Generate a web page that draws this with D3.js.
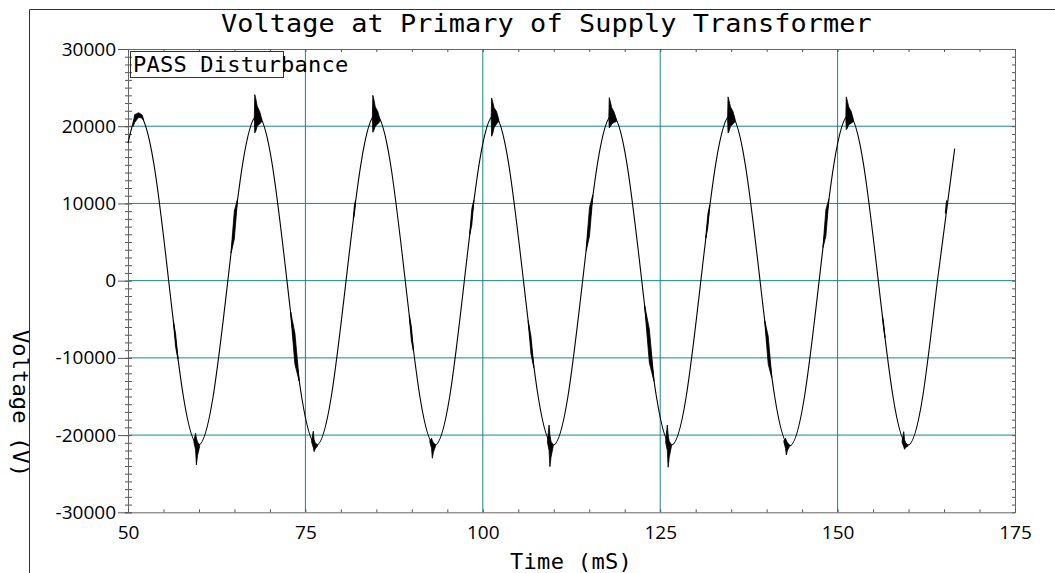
<!DOCTYPE html>
<html>
<head>
<meta charset="utf-8">
<script src="https://cdn.jsdelivr.net/npm/d3@7"></script>
<style>
  body { margin: 0; background: #fff; }
  svg { display: block; }
  .mono { font-family: "DejaVu Sans Mono", monospace; fill: #000; }
  .tick text { font-family: "Open Sans", sans-serif; font-size: 19px; fill: #000; }
</style>
</head>
<body>
<svg id="chart" width="1055" height="573"></svg>
<script>
// ---- data ----
var xTicks = [50, 75, 100, 125, 150, 175],
    xTickLabels = ['50', '75', '100', '125', '150', '175'],
    yTicks = [-30000, -20000, -10000, 0, 10000, 20000, 30000],
    yTickLabels = ['-30000', '-20000', '-10000', '0', '10000', '20000', '30000'],
    xGrid = [75, 100, 125, 150],
    yGrid = [-20000, -10000, 0, 10000, 20000];

// main 60 Hz trace (time in mS, voltage in V)
var waveTime = [50.00, 51.57, 53.65, 55.73, 57.82, 59.90, 61.98, 64.07,
                66.15, 68.23, 70.32, 72.40, 74.48, 76.57, 78.65, 80.73,
                82.82, 84.90, 86.98, 89.07, 91.15, 93.23, 95.32, 97.40,
                99.48, 101.57, 103.65, 105.73, 107.82, 109.90, 111.98, 114.07,
                116.15, 118.23, 120.32, 122.40, 124.48, 126.57, 128.65, 130.73,
                132.82, 134.90, 136.98, 139.07, 141.15, 143.23, 145.32, 147.40,
                149.48, 151.57, 153.65, 155.73, 157.82, 159.90, 161.98, 164.07,
                166.50];
var waveVolt = [17800, 21500, 15100, 0, -15100, -21300, -15100, 0,
                15100, 21400, 15100, 0, -15100, -21300, -15000, 0,
                15100, 21500, 15200, 0, -15100, -21300, -15100, 0,
                15100, 21400, 15100, 0, -15100, -21300, -15100, 0,
                15100, 21400, 15100, 0, -15100, -21300, -15100, 0,
                15100, 21400, 15100, 0, -15100, -21400, -15100, 0,
                15100, 21400, 15100, 0, -15100, -21300, -15100, 0,
                17100];

// disturbance bursts: [time, low envelope, high envelope]
var peakBursts = [
  [[50.70, 19950, 20350], [50.95, 20500, 21500], [51.50, 21150, 21750], [52.00, 21050, 21450], [52.20, 20750, 20850]],
  [[67.80, 21000, 21150], [67.86, 19130, 24100], [67.98, 19300, 23700], [68.21, 20000, 22600], [68.56, 20300, 21900], [68.86, 20600, 20900]],
  [[84.44, 21000, 21150], [84.50, 19220, 24000], [84.62, 19400, 23600], [84.85, 20000, 22500], [85.20, 20300, 21900], [85.50, 20600, 20900]],
  [[101.18, 21000, 21150], [101.24, 18700, 23660], [101.36, 18900, 23300], [101.59, 19800, 22400], [101.94, 20300, 21900], [102.24, 20600, 20900]],
  [[117.76, 21000, 21150], [117.82, 19780, 23700], [117.94, 19900, 23300], [118.17, 20300, 22400], [118.52, 20500, 21800], [118.82, 20600, 20900]],
  [[134.50, 21000, 21150], [134.56, 19130, 23800], [134.68, 19300, 23400], [134.91, 20000, 22500], [135.26, 20300, 21900], [135.56, 20600, 20900]],
  [[151.16, 21000, 21150], [151.22, 19560, 23800], [151.34, 19700, 23400], [151.57, 20200, 22500], [151.92, 20400, 21900], [152.22, 20600, 20900]]
];
var troughBursts = [
  [[59.29, -20930, -20730], [59.52, -21900, -19770], [59.64, -23870, -20400], [59.79, -22700, -20900], [60.09, -21500, -21250]],
  [[75.88, -20930, -20730], [76.11, -21600, -19500], [76.23, -22150, -20600], [76.38, -21800, -21000], [76.68, -21450, -21250]],
  [[92.54, -20930, -20730], [92.77, -21700, -20420], [92.89, -23000, -20700], [93.04, -22200, -21000], [93.34, -21450, -21250]],
  [[109.11, -20930, -20730], [109.34, -22000, -18700], [109.46, -24090, -20000], [109.61, -22900, -20800], [109.91, -21500, -21250]],
  [[125.77, -20930, -20730], [126.00, -22000, -18700], [126.12, -24170, -20000], [126.27, -22900, -20800], [126.57, -21500, -21250]],
  [[142.43, -20930, -20730], [142.66, -21700, -20420], [142.78, -22580, -20700], [142.93, -22000, -21000], [143.23, -21450, -21250]],
  [[159.09, -20930, -20730], [159.32, -21500, -19560], [159.44, -21840, -20600], [159.59, -21600, -21000], [159.89, -21450, -21250]]
];
var risingBursts = [
  [[64.54, 3600, 3900], [64.98, 5400, 9000], [65.42, 10300, 10500]],
  [[81.76, 8000, 8200], [81.91, 8600, 9800], [82.06, 10200, 10400]],
  [[98.17, 6000, 6300], [98.45, 7200, 9300], [98.73, 10200, 10400]],
  [[114.58, 3900, 4300], [115.04, 5800, 9500], [115.50, 10900, 11100]],
  [[131.43, 5500, 5700], [131.71, 6900, 8600], [131.98, 9600, 9800]],
  [[147.95, 4300, 4500], [148.35, 5800, 9200], [148.75, 10300, 10500]],
  [[165.19, 8700, 8900], [165.30, 9100, 10000], [165.40, 10200, 10400]]
];
var fallingBursts = [
  [[56.40, -5400, -5200], [56.71, -8600, -6900], [57.03, -10150, -9950]],
  [[72.93, -4400, -4100], [73.52, -10800, -6800], [74.11, -13000, -12700]],
  [[89.65, -4800, -4500], [89.94, -7800, -6000], [90.22, -9100, -8900]],
  [[106.40, -5400, -5200], [106.79, -9500, -7200], [107.18, -11250, -11050]],
  [[122.82, -3500, -3250], [123.47, -10600, -6300], [124.11, -13000, -12700]],
  [[139.74, -5400, -5200], [140.22, -10800, -7200], [140.71, -12550, -12300]],
  [[156.31, -4700, -4500], [156.50, -6300, -5600], [156.68, -7400, -7200]]
];

// ---- drawing ----
var svg = d3.select('#chart'),
    gridColor = '#17888a',
    axisColor = '#666',
    x = d3.scaleLinear().domain([50, 175]).range([128, 1015]),
    y = d3.scaleLinear().domain([-30000, 30000]).range([512.3, 49]),
    xMinor = d3.range(50, 176, 5),
    yMinor = d3.range(-30000, 30001, 1000);

svg.append('rect').attr('width', 1055).attr('height', 573).attr('fill', '#fff');

// outer frame
svg.append('path')
  .attr('d', 'M29.5,573V9.5H1055')
  .attr('fill', 'none')
  .attr('stroke', '#333');

// grid
svg.append('g').selectAll('line.vg')
  .data(xGrid)
  .enter().append('line')
  .attr('x1', function(d) { return x(d); })
  .attr('x2', function(d) { return x(d); })
  .attr('y1', y(30000))
  .attr('y2', y(-30000))
  .attr('stroke', gridColor);

svg.append('g').selectAll('line.hg')
  .data(yGrid)
  .enter().append('line')
  .attr('x1', x(50))
  .attr('x2', x(175))
  .attr('y1', function(d) { return y(d); })
  .attr('y2', function(d) { return y(d); })
  .attr('stroke', gridColor);

// axes
function styleAxis(g) {
  g.select('.domain').attr('stroke', axisColor);
  g.selectAll('.tick line').attr('stroke', '#555');
}

svg.append('g')
  .attr('transform', 'translate(' + x(50) + ',0)')
  .call(d3.axisLeft(y).tickValues(yMinor).tickSize(3).tickFormat(''))
  .call(styleAxis);
svg.append('g')
  .attr('transform', 'translate(' + x(50) + ',0)')
  .call(d3.axisRight(y).tickValues(yMinor).tickSize(4).tickFormat(''))
  .call(styleAxis);
svg.append('g')
  .attr('transform', 'translate(' + x(50) + ',0)')
  .call(d3.axisLeft(y)
    .tickValues(yTicks)
    .tickSizeInner(10)
    .tickSizeOuter(0)
    .tickPadding(2)
    .tickFormat(function(d, i) { return yTickLabels[i]; }))
  .call(styleAxis);

svg.append('g')
  .attr('transform', 'translate(' + x(175) + ',0)')
  .call(d3.axisRight(y).tickValues(yMinor).tickSizeInner(-3).tickSizeOuter(0).tickFormat(''))
  .call(styleAxis);

svg.append('g')
  .attr('transform', 'translate(0,' + y(30000) + ')')
  .call(d3.axisTop(x).tickValues(xMinor).tickSizeInner(-3).tickSizeOuter(0).tickFormat(''))
  .call(styleAxis);

svg.append('g')
  .attr('transform', 'translate(0,' + y(-30000) + ')')
  .call(d3.axisBottom(x)
    .tickValues(xMinor)
    .tickSizeInner(-3)
    .tickSizeOuter(0)
    .tickPadding(13)
    .tickFormat(function(d) {
      var i = xTicks.indexOf(d);
      return i < 0 ? '' : xTickLabels[i];
    }))
  .call(styleAxis);

// waveform
var wave = waveTime.map(function(t, i) { return [t, waveVolt[i]]; });

svg.append('path')
  .datum(wave)
  .attr('d', d3.line()
    .x(function(d) { return x(d[0]); })
    .y(function(d) { return y(d[1]); })
    .curve(d3.curveNatural))
  .attr('fill', 'none')
  .attr('stroke', '#000')
  .attr('stroke-width', 1.1);

var burstArea = d3.area()
  .x(function(d) { return x(d[0]); })
  .y0(function(d) { return y(d[1]); })
  .y1(function(d) { return y(d[2]); });

svg.append('g').selectAll('path')
  .data(peakBursts.concat(troughBursts, risingBursts, fallingBursts))
  .enter().append('path')
  .attr('d', burstArea)
  .attr('fill', '#000')
  .attr('stroke', '#000')
  .attr('stroke-width', 0.8)
  .attr('stroke-linejoin', 'round');

// legend box
svg.append('rect')
  .attr('x', 130.5).attr('y', 51.5)
  .attr('width', 153).attr('height', 26)
  .attr('fill', 'none')
  .attr('stroke', '#333');
svg.append('text')
  .attr('class', 'mono')
  .attr('transform', 'translate(133,72) scale(1.05,1)')
  .attr('font-size', 21)
  .attr('textLength', 205)
  .attr('lengthAdjust', 'spacing')
  .text('PASS Disturbance');

// titles
svg.append('text')
  .attr('class', 'mono')
  .attr('transform', 'translate(221,32) scale(1.12,1)')
  .attr('font-size', 24)
  .attr('textLength', 581)
  .attr('lengthAdjust', 'spacing')
  .text('Voltage at Primary of Supply Transformer');

svg.append('text')
  .attr('class', 'mono')
  .attr('transform', 'translate(510,569) scale(1.05,1)')
  .attr('font-size', 21)
  .attr('textLength', 116)
  .attr('lengthAdjust', 'spacing')
  .text('Time (mS)');

svg.append('text')
  .attr('class', 'mono')
  .attr('transform', 'translate(13,330) rotate(90) scale(1.05,1)')
  .attr('font-size', 21)
  .attr('textLength', 140)
  .attr('lengthAdjust', 'spacing')
  .text('Voltage (V)');
</script>
</body>
</html>
